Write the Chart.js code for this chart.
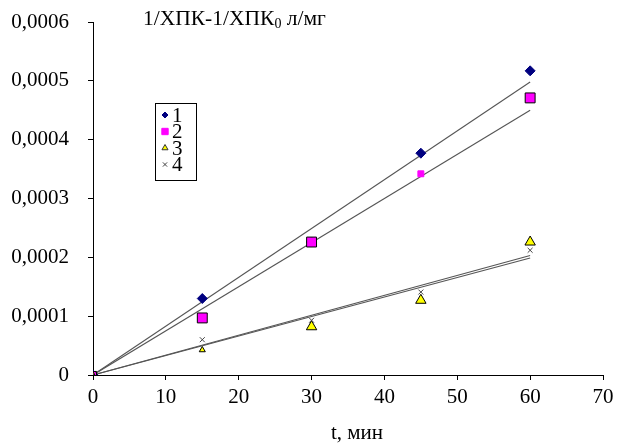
<!DOCTYPE html>
<html>
<head>
<meta charset="utf-8">
<script src="https://cdn.jsdelivr.net/npm/chart.js@4/dist/chart.umd.min.js"></script>
<style>
html,body{margin:0;padding:0;background:#fff;}
#wrap{width:620px;height:445px;position:relative;}
</style>
</head>
<body>
<div id="wrap"><canvas id="c" width="620" height="445"></canvas></div>
<script>
// ---- data ----
const times = [0, 15, 30, 45, 60];
const series1 = [0, 0.00013, 0.000226, 0.000377, 0.000517];
const series2 = [0, 0.000097, 0.000226, 0.000342, 0.000471];
const series3 = [0, 0.0000425, 0.000082, 0.000127, 0.000226];
const series4 = [0, 0.00006, 0.000093, 0.000141, 0.000212];
const seriesLabels = ['1', '2', '3', '4'];
const trendTimes = [0, 60];
const trend1 = [0, 0.000498];
const trend2 = [0, 0.00045];
const trend3 = [0, 0.000199];
const trend4 = [0, 0.000203];
const yTickLabels = ['0', '0,0001', '0,0002', '0,0003', '0,0004', '0,0005', '0,0006'];
const xTickLabels = ['0', '10', '20', '30', '40', '50', '60', '70'];
const titleMain = '1/ХПК-1/ХПК';
const titleSub = '0';
const titleTail = ' л/мг';
const xAxisTitle = 't, мин';

const pts = (xs, ys) => xs.map((x, i) => ({x: x, y: ys[i]}));
const FONT = "'Liberation Serif', 'Times New Roman', serif";

const markerSets = [
  {label: seriesLabels[0], data: pts(times, series1), pointStyle: 'rectRot', pointRadius: 5,
   backgroundColor: '#000080', borderColor: '#000080', borderWidth: 1, order: 4,
   legendStyle: {pointStyle: 'rectRot', r: 3, fill: '#000080', stroke: '#000080'}},
  {label: seriesLabels[1], data: pts(times, series2), pointStyle: 'rect',
   pointRadius: [5, 7, 7, 4.2, 7],
   backgroundColor: '#FF00FF', borderColor: ['#000', '#000', '#000', '#FF00FF', '#000'], borderWidth: 1, order: 3,
   legendStyle: {pointStyle: 'rect', r: 4.5, fill: '#FF00FF', stroke: '#FF00FF'}},
  {label: seriesLabels[2], data: pts(times, series3), pointStyle: 'triangle',
   pointRadius: [3, 3.5, 6, 6, 6],
   backgroundColor: '#FFFF00', borderColor: '#000', borderWidth: 1, order: 2,
   legendStyle: {pointStyle: 'triangle', r: 3.5, fill: '#FFFF00', stroke: '#333'}},
  {label: seriesLabels[3], data: pts(times, series4), pointStyle: 'crossRot', pointRadius: 3.5,
   backgroundColor: '#444', borderColor: '#444', borderWidth: 1, order: 1,
   legendStyle: {pointStyle: 'crossRot', r: 3, fill: '#444', stroke: '#444'}}
];
markerSets.forEach(d => { d.showLine = false; d.pointHoverRadius = d.pointRadius; });

const trendSets = [trend1, trend2, trend3, trend4].map(tr => ({
  label: '', data: pts(trendTimes, tr), showLine: true, pointRadius: 0, pointHoverRadius: 0,
  borderColor: '#555', borderWidth: 1.1, backgroundColor: '#555', order: 10, isTrend: true
}));

const textPlugin = {
  id: 'textPlugin',
  afterDraw(chart) {
    const ctx = chart.ctx;
    ctx.save();
    ctx.fillStyle = '#000';
    ctx.textBaseline = 'alphabetic';
    ctx.textAlign = 'left';
    let x = 143, y = 25;
    ctx.font = '21.5px ' + FONT;
    ctx.fillText(titleMain, x, y);
    x += ctx.measureText(titleMain).width;
    ctx.font = '14px ' + FONT;
    ctx.fillText(titleSub, x, y + 3);
    x += ctx.measureText(titleSub).width;
    ctx.font = '21.5px ' + FONT;
    ctx.fillText(titleTail, x, y);
    // x axis title
    ctx.textAlign = 'center';
    ctx.textBaseline = 'middle';
    ctx.font = '21px ' + FONT;
    ctx.fillText(xAxisTitle, 357, 433);
    ctx.restore();
  }
};

const legendPlugin = {
  id: 'boxLegend',
  afterDraw(chart) {
    const ctx = chart.ctx;
    const left = 155, top = 103, w = 41, h = 77;
    ctx.save();
    ctx.fillStyle = '#fff';
    ctx.fillRect(left, top, w, h);
    ctx.strokeStyle = '#000';
    ctx.lineWidth = 1;
    ctx.strokeRect(left + 0.5, top + 0.5, w, h);
    const items = chart.data.datasets.filter(d => !d.isTrend);
    items.forEach((d, i) => {
      const cy = top + 12 + i * 16.5;
      const ls = d.legendStyle;
      ctx.fillStyle = ls.fill;
      ctx.strokeStyle = ls.stroke;
      ctx.lineWidth = 1;
      Chart.helpers.drawPoint(ctx, {pointStyle: ls.pointStyle, radius: ls.r, borderWidth: 1}, 165, cy);
      ctx.fillStyle = '#000';
      ctx.font = '21px ' + FONT;
      ctx.textBaseline = 'middle';
      ctx.textAlign = 'left';
      ctx.fillText(d.label, 172, cy + 1);
    });
    ctx.restore();
  }
};

new Chart(document.getElementById('c'), {
  type: 'scatter',
  data: {datasets: markerSets.concat(trendSets)},
  options: {
    responsive: false,
    animation: false,
    layout: {padding: {top: 22, right: 17, left: 0, bottom: 0}},
    plugins: {legend: {display: false}, tooltip: {enabled: false}, title: {display: false}},
    scales: {
      x: {
        type: 'linear', min: 0, max: 70,
        ticks: {stepSize: 10, color: '#000', font: {family: FONT, size: 21}, padding: 5,
                callback: (v, i) => xTickLabels[i]},
        grid: {display: true, drawOnChartArea: false, drawTicks: true, tickLength: 5, color: '#000'},
        border: {display: true, color: '#000', width: 1},
        title: {display: false, text: xAxisTitle},
        afterFit: s => { s.height = 70; s.paddingLeft = 0; s.paddingRight = 0; }
      },
      y: {
        type: 'linear', min: 0, max: 0.0006,
        ticks: {stepSize: 0.0001, color: '#000', font: {family: FONT, size: 21}, padding: 19,
                callback: (v, i) => yTickLabels[i]},
        grid: {display: true, drawOnChartArea: false, drawTicks: true, tickLength: 5, color: '#000'},
        border: {display: true, color: '#000', width: 1},
        afterFit: s => { s.width = 93; s.paddingTop = 0; s.paddingBottom = 0; }
      }
    }
  },
  plugins: [textPlugin, legendPlugin]
});
</script>
</body>
</html>
